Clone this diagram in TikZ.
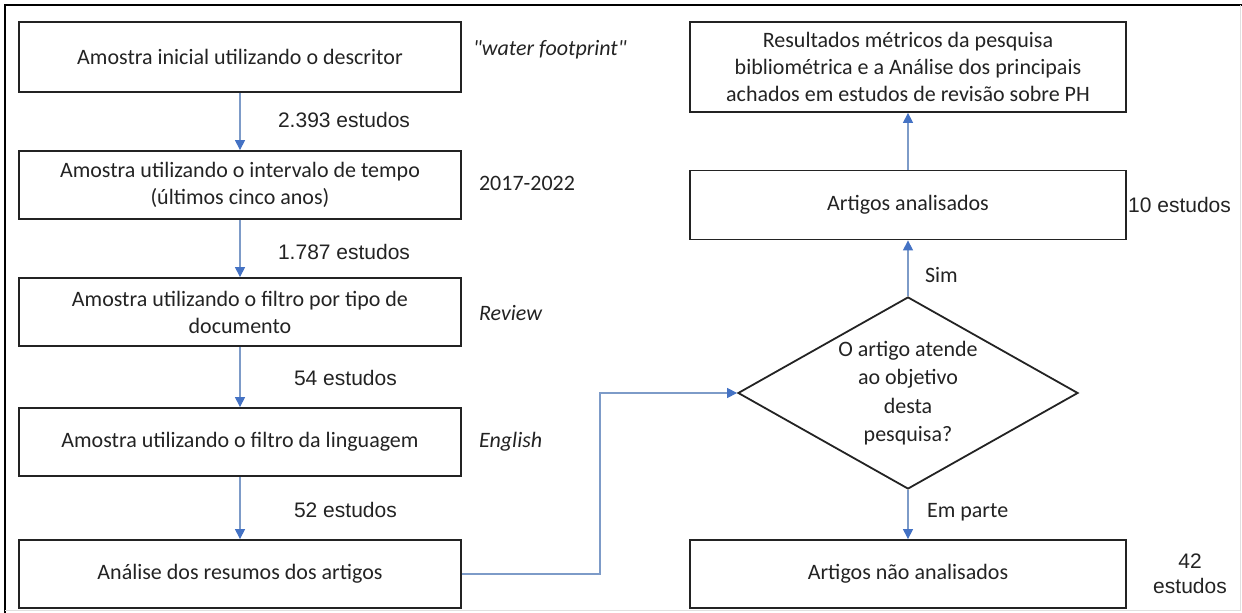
\documentclass[tikz,border=0pt]{standalone}
\usepackage{fontspec}
\setmainfont{Carlito}
\newfontfamily\arialfont{Liberation Sans}
\usetikzlibrary{arrows.meta,shapes.geometric}
\definecolor{linkblue}{RGB}{125,155,200}
\definecolor{tipblue}{RGB}{68,114,196}
\definecolor{inkgray}{RGB}{35,35,35}

\begin{document}
\begin{tikzpicture}[x=0.5pt,y=-0.5pt,font=\fontsize{11}{13.5}\selectfont,
    caixa/.style={draw=inkgray,line width=0.9pt,minimum width=221pt,minimum height=34pt,inner sep=0pt,align=center,text=inkgray},
    decisao/.style={draw=inkgray,line width=0.9pt,diamond,aspect=1.77,minimum width=170pt,minimum height=96pt,inner sep=0pt,align=center,text=inkgray,font=\fontsize{11}{14.2}\selectfont},
    rotulo/.style={text=inkgray,font=\arialfont\fontsize{10.5}{12.5}\selectfont},
    nota/.style={text=inkgray,anchor=west},
    seta/.style={draw=linkblue,line width=0.6pt,-{Triangle[length=5pt,width=5pt,color=tipblue]}}]
  \useasboundingbox (0,0) rectangle (1242,613);
  \draw[line width=1pt,black] (5,613) -- (5,5) -- (1242,5);
  \draw[line width=0.5pt,black!12] (1240,5) -- (1240,611) -- (5,611);

  \node[caixa,minimum height=35pt] (amostra1) at (240,57) {Amostra inicial utilizando o descritor};
  \node[caixa] (amostra2) at (240,185) {Amostra utilizando o intervalo de tempo\\(últimos cinco anos)};
  \node[caixa] (amostra3) at (240,312) {Amostra utilizando o filtro por tipo de\\documento};
  \node[caixa] (amostra4) at (240,442) {Amostra utilizando o filtro da linguagem};
  \node[caixa] (analise) at (240,574) {Análise dos resumos dos artigos};

  \node[nota] (descritor) at (466,50) {\textit{\textquotedbl water footprint\textquotedbl}};
  \node[nota] (periodo) at (472,183) {2017-2022};
  \node[nota] (tipo) at (472,313) {\textit{Review}};
  \node[nota] (idioma) at (472,442) {\textit{English}};

  \node[rotulo,anchor=west] (n1) at (271,120) {2.393 estudos};
  \node[rotulo,anchor=west] (n2) at (271,252) {1.787 estudos};
  \node[rotulo,anchor=west] (n3) at (287,378) {54 estudos};
  \node[rotulo,anchor=west] (n4) at (287,510) {52 estudos};

  \node[caixa,minimum width=218pt,minimum height=45pt] (resultado) at (908,67) {Resultados métricos da pesquisa\\bibliométrica e a Análise dos principais\\achados em estudos de revisão sobre PH};
  \node[caixa,minimum width=218pt,minimum height=34.5pt] (analisados) at (908,205) {Artigos analisados};
  \node[decisao] (objetivo) at (908,393) {O artigo atende\\ao objetivo\\desta\\pesquisa?};
  \node[caixa,minimum width=218pt] (naoanalisados) at (908,574) {Artigos não analisados};

  \node[rotulo,anchor=east] (n5) at (1238,205) {10 estudos};
  \node[rotulo,align=center] (n6) at (1190,574) {42\\estudos};
  \node[anchor=west,text=inkgray] (sim) at (918,275) {Sim};
  \node[anchor=west,text=inkgray] (emparte) at (920,512) {Em parte};

  \coordinate (dobra) at (600,393);
  \draw[seta] (amostra1) -- (amostra2);
  \draw[seta] (amostra2) -- (amostra3);
  \draw[seta] (amostra3) -- (amostra4);
  \draw[seta] (amostra4) -- (analise);
  \draw[seta] (analise.east) -| (dobra) -- (objetivo.west);
  \draw[seta] (objetivo) -- (analisados);
  \draw[seta] (analisados) -- (resultado);
  \draw[seta] (objetivo) -- (naoanalisados);
\end{tikzpicture}
\end{document}
